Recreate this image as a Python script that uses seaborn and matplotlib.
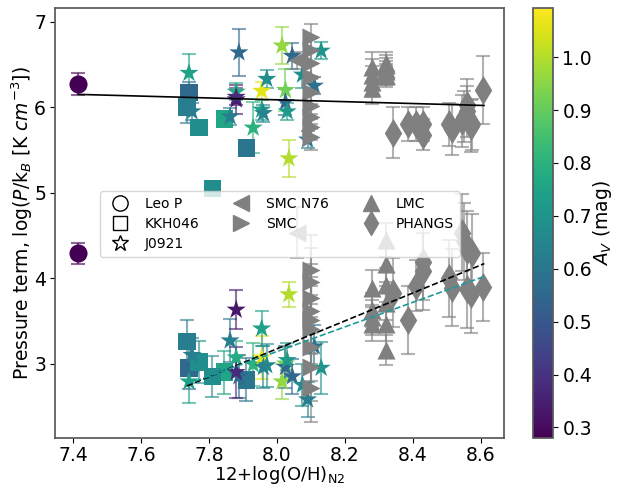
import numpy as np
import matplotlib
matplotlib.use("Agg")
import matplotlib.pyplot as plt
from matplotlib.colors import Normalize
from matplotlib.lines import Line2D
import seaborn as sns
import pandas as pd

# ---------------- data ----------------
# Leo P
leo_x = [7.415]
leo_av = [0.28]
leo_up = [6.27]
leo_up_err = [0.13]
leo_low = [4.29]
leo_low_err = [0.12]

# KKH046
kkh_x = [7.741, 7.735, 7.77, 7.845, 7.91, 7.81]
kkh_av = [0.55, 0.62, 0.68, 0.76, 0.60, 0.68]
kkh_up = [6.17, 6.00, 5.76, 5.86, 5.52, 5.05]
kkh_up_err = [0.12, 0.18, 0.06, 0.05, 0.05, 0.05]
kkh_low = [2.95, 3.26, 3.02, 2.90, 2.81, 2.85]
kkh_low_err = [0.25, 0.25, 0.25, 0.25, 0.25, 0.24]

# J0921
j_x = [7.741, 7.75, 7.862, 7.888, 7.88, 7.88, 7.88, 7.93, 7.955, 7.97, 7.955,
       7.96, 8.015, 8.045, 8.025, 8.025, 8.03, 8.035, 8.075, 8.13, 8.11, 8.09]
j_av = [0.75, 0.62, 0.62, 0.55, 0.78, 0.33, 0.38, 0.80, 1.06, 0.68, 0.74,
        0.64, 0.96, 0.55, 0.92, 0.55, 0.72, 1.00, 0.68, 0.70, 0.58, 0.62]
j_up = [6.40, 5.95, 5.89, 6.64, 6.18, 6.09, 6.12, 5.76, 6.19, 6.33, 5.97,
        5.93, 6.72, 6.60, 6.20, 6.06, 5.95, 5.40, 6.38, 6.66, 6.25, 5.62]
j_up_err = [0.22, 0.10, 0.10, 0.27, 0.10, 0.17, 0.10, 0.30, 0.10, 0.10, 0.12,
            0.10, 0.22, 0.15, 0.25, 0.15, 0.10, 0.22, 0.15, 0.10, 0.10, 0.10]
j_low = [2.79, 3.10, 3.27, 2.85, 3.07, 3.63, 2.90, 2.99, 3.07, 2.98, 3.41,
         2.96, 2.79, 2.85, 3.00, 2.96, 3.04, 3.81, 2.75, 2.95, 3.20, 2.58]
j_low_err = [0.25, 0.20, 0.25, 0.25, 0.20, 0.23, 0.30, 0.25, 0.25, 0.25, 0.20,
             0.25, 0.20, 0.20, 0.20, 0.25, 0.20, 0.15, 0.25, 0.30, 0.25, 0.20]

# SMC N76
n76_x = [8.06]
n76_up = [6.55]
n76_up_err = [0.10]
n76_low = [4.53]
n76_low_err = [0.30]

# SMC
smc_x = [8.10, 8.10, 8.10, 8.10, 8.10, 8.10, 8.10, 8.10, 8.10]
smc_up = [6.82, 6.67, 6.52, 6.35, 6.18, 6.01, 5.89, 5.77, 5.65]
smc_up_err = [0.15, 0.15, 0.15, 0.15, 0.15, 0.15, 0.15, 0.15, 0.15]
smc_low = [4.10, 3.95, 3.77, 3.61, 3.51, 3.40, 3.20, 2.96, 2.72]
smc_low_err = [0.40, 0.40, 0.40, 0.40, 0.40, 0.40, 0.40, 0.40, 0.40]

# LMC
lmc_x = [8.28, 8.28, 8.28, 8.28, 8.32, 8.32, 8.32, 8.32, 8.32, 8.32]
lmc_up = [6.47, 6.38, 6.30, 6.22, 6.52, 6.49, 6.45, 6.42, 6.38, 6.36]
lmc_up_err = [0.18, 0.18, 0.18, 0.18, 0.12, 0.12, 0.12, 0.12, 0.12, 0.12]
lmc_low = [3.89, 3.63, 3.54, 3.46, 4.45, 4.16, 3.92, 3.71, 3.46, 3.16]
lmc_low_err = [0.20, 0.20, 0.20, 0.20, 0.20, 0.20, 0.20, 0.20, 0.20, 0.18]

# PHANGS
ph_x = [8.34, 8.385, 8.41, 8.43, 8.43, 8.505, 8.515, 8.545, 8.55, 8.56, 8.575,
        8.56, 8.57, 8.605]
ph_up = [5.70, 5.80, 5.80, 5.80, 5.68, 5.80, 5.74, 5.84, 5.89, 5.95, 5.80,
         6.03, 5.78, 6.20]
ph_up_err = [0.30, 0.20, 0.20, 0.20, 0.18, 0.25, 0.30, 0.30, 0.30, 0.30, 0.30,
             0.30, 0.30, 0.40]
ph_low = [3.83, 3.51, 3.91, 4.19, 4.08, 4.00, 3.89, 4.53, 4.43, 4.33, 4.30,
          3.87, 3.81, 3.90]
ph_low_err = [0.40, 0.40, 0.30, 0.45, 0.45, 0.45, 0.45, 0.45, 0.45, 0.45, 0.45,
              0.45, 0.45, 0.40]

# fit lines (endpoints)
fit_up_x = [7.415, 8.61]
fit_up_y = [6.15, 6.02]
fit_low_x = [7.735, 8.61]
fit_low_y = [2.74, 4.17]
fit_low2_y = [2.76, 4.02]

AV_MIN, AV_MAX = 0.28, 1.093
av_ticks = [0.3, 0.4, 0.5, 0.6, 0.7, 0.8, 0.9, 1.0]

# ---------------- plot ----------------
sns.set_theme(style="ticks")
plt.rcParams.update({
    'font.family': ['DejaVu Sans'],
    'axes.edgecolor': '0.35',
    'text.color': 'black',
    'axes.labelcolor': 'black',
    'xtick.color': 'black',
    'ytick.color': 'black',
    'xtick.major.size': 3.5,
    'ytick.major.size': 3.5,
    'xtick.major.width': 0.8,
    'ytick.major.width': 0.8,
    'xtick.major.pad': 2.5,
    'ytick.major.pad': 3.0,
    'axes.labelpad': 4.0,
})

fig = plt.figure(figsize=(6.28, 4.88), dpi=100)
ax = fig.add_axes([0.0876, 0.1025, 0.715, 0.881])
cax = fig.add_axes([0.849, 0.1025, 0.032, 0.881])

cmap = plt.get_cmap('viridis')
norm = Normalize(vmin=AV_MIN, vmax=AV_MAX)

def colored(x, y, yerr, av, marker, s):
    cols = cmap(norm(np.array(av)))
    for xi, yi, ei, ci in zip(x, y, yerr, cols):
        ax.errorbar(xi, yi, yerr=ei, fmt='none', ecolor=ci, alpha=0.6,
                    elinewidth=1.5, capsize=5, capthick=1.5, zorder=2)
    df = pd.DataFrame({'x': x, 'y': y, 'av': av})
    sns.scatterplot(data=df, x='x', y='y', hue='av', palette='viridis',
                    hue_norm=norm, marker=marker, s=s, linewidth=0,
                    legend=False, ax=ax, zorder=3)

def grey(x, y, yerr, marker, s):
    ax.errorbar(x, y, yerr=yerr, fmt='none', ecolor='grey', alpha=0.6,
                elinewidth=1.5, capsize=5, capthick=1.5, zorder=2)
    df = pd.DataFrame({'x': x, 'y': y})
    sns.scatterplot(data=df, x='x', y='y', color='grey', marker=marker, s=s,
                    linewidth=0, legend=False, ax=ax, zorder=3)

for ys, es in [(leo_up, leo_up_err), (leo_low, leo_low_err)]:
    colored(leo_x, ys, es, leo_av, 'o', 170)
for ys, es in [(kkh_up, kkh_up_err), (kkh_low, kkh_low_err)]:
    colored(kkh_x, ys, es, kkh_av, 's', 160)
for ys, es in [(j_up, j_up_err), (j_low, j_low_err)]:
    colored(j_x, ys, es, j_av, '*', 210)

grey(n76_x, n76_up, n76_up_err, '<', 170)
grey(n76_x, n76_low, n76_low_err, '<', 170)
grey(smc_x, smc_up, smc_up_err, '>', 170)
grey(smc_x, smc_low, smc_low_err, '>', 170)
grey(lmc_x, lmc_up, lmc_up_err, '^', 170)
grey(lmc_x, lmc_low, lmc_low_err, '^', 170)
grey(ph_x, ph_up, ph_up_err, 'd', 220)
grey(ph_x, ph_low, ph_low_err, 'd', 220)

ax.plot(fit_up_x, fit_up_y, color='black', lw=1.2, zorder=4)
ax.plot(fit_low_x, fit_low_y, color='black', lw=1.2, ls='--', zorder=4)
ax.plot(fit_low_x, fit_low2_y, color='#1a9a9a', lw=1.2, ls='--', zorder=4)

ax.set_xlim(7.347, 8.668)
ax.set_ylim(2.13, 7.16)
ax.set_xticks([7.4, 7.6, 7.8, 8.0, 8.2, 8.4, 8.6])
ax.set_yticks([3, 4, 5, 6, 7])
ax.tick_params(labelsize=13.5)
ax.set_xlabel(r'12+log(O/H)$_{\rm N2}$', fontsize=13, labelpad=-1)
ax.set_ylabel(r'Pressure term, log($P$/k$_B$ [K $cm^{-3}$])', fontsize=13.5,
              labelpad=-1)

handles = [
    Line2D([], [], ls='none', marker='o', ms=11, mfc='white', mec='black', mew=1),
    Line2D([], [], ls='none', marker='s', ms=10, mfc='white', mec='black', mew=1),
    Line2D([], [], ls='none', marker='*', ms=12, mfc='white', mec='black', mew=1),
    Line2D([], [], ls='none', marker='<', ms=11, color='grey'),
    Line2D([], [], ls='none', marker='>', ms=11, color='grey'),
    Line2D([], [], ls='none', marker='^', ms=11, color='grey'),
    Line2D([], [], ls='none', marker='d', ms=12, color='grey'),
]
labels = ['Leo P', 'KKH046', 'J0921', 'SMC N76', 'SMC', 'LMC', 'PHANGS']
ax.legend(handles, labels, ncol=3, loc='center', bbox_to_anchor=(0.501, 0.498),
          fontsize=10, frameon=True, handletextpad=0.8, columnspacing=2.0,
          labelspacing=0.45, borderpad=0.4)

sm = matplotlib.cm.ScalarMappable(norm=norm, cmap=cmap)
cb = fig.colorbar(sm, cax=cax, ticks=av_ticks)
cb.ax.tick_params(labelsize=13.5)
cb.set_label(r'$A_V$ (mag)', fontsize=13.5, labelpad=-1)
cb.outline.set_edgecolor('0.35')

fig.savefig('out.png', dpi=100)
